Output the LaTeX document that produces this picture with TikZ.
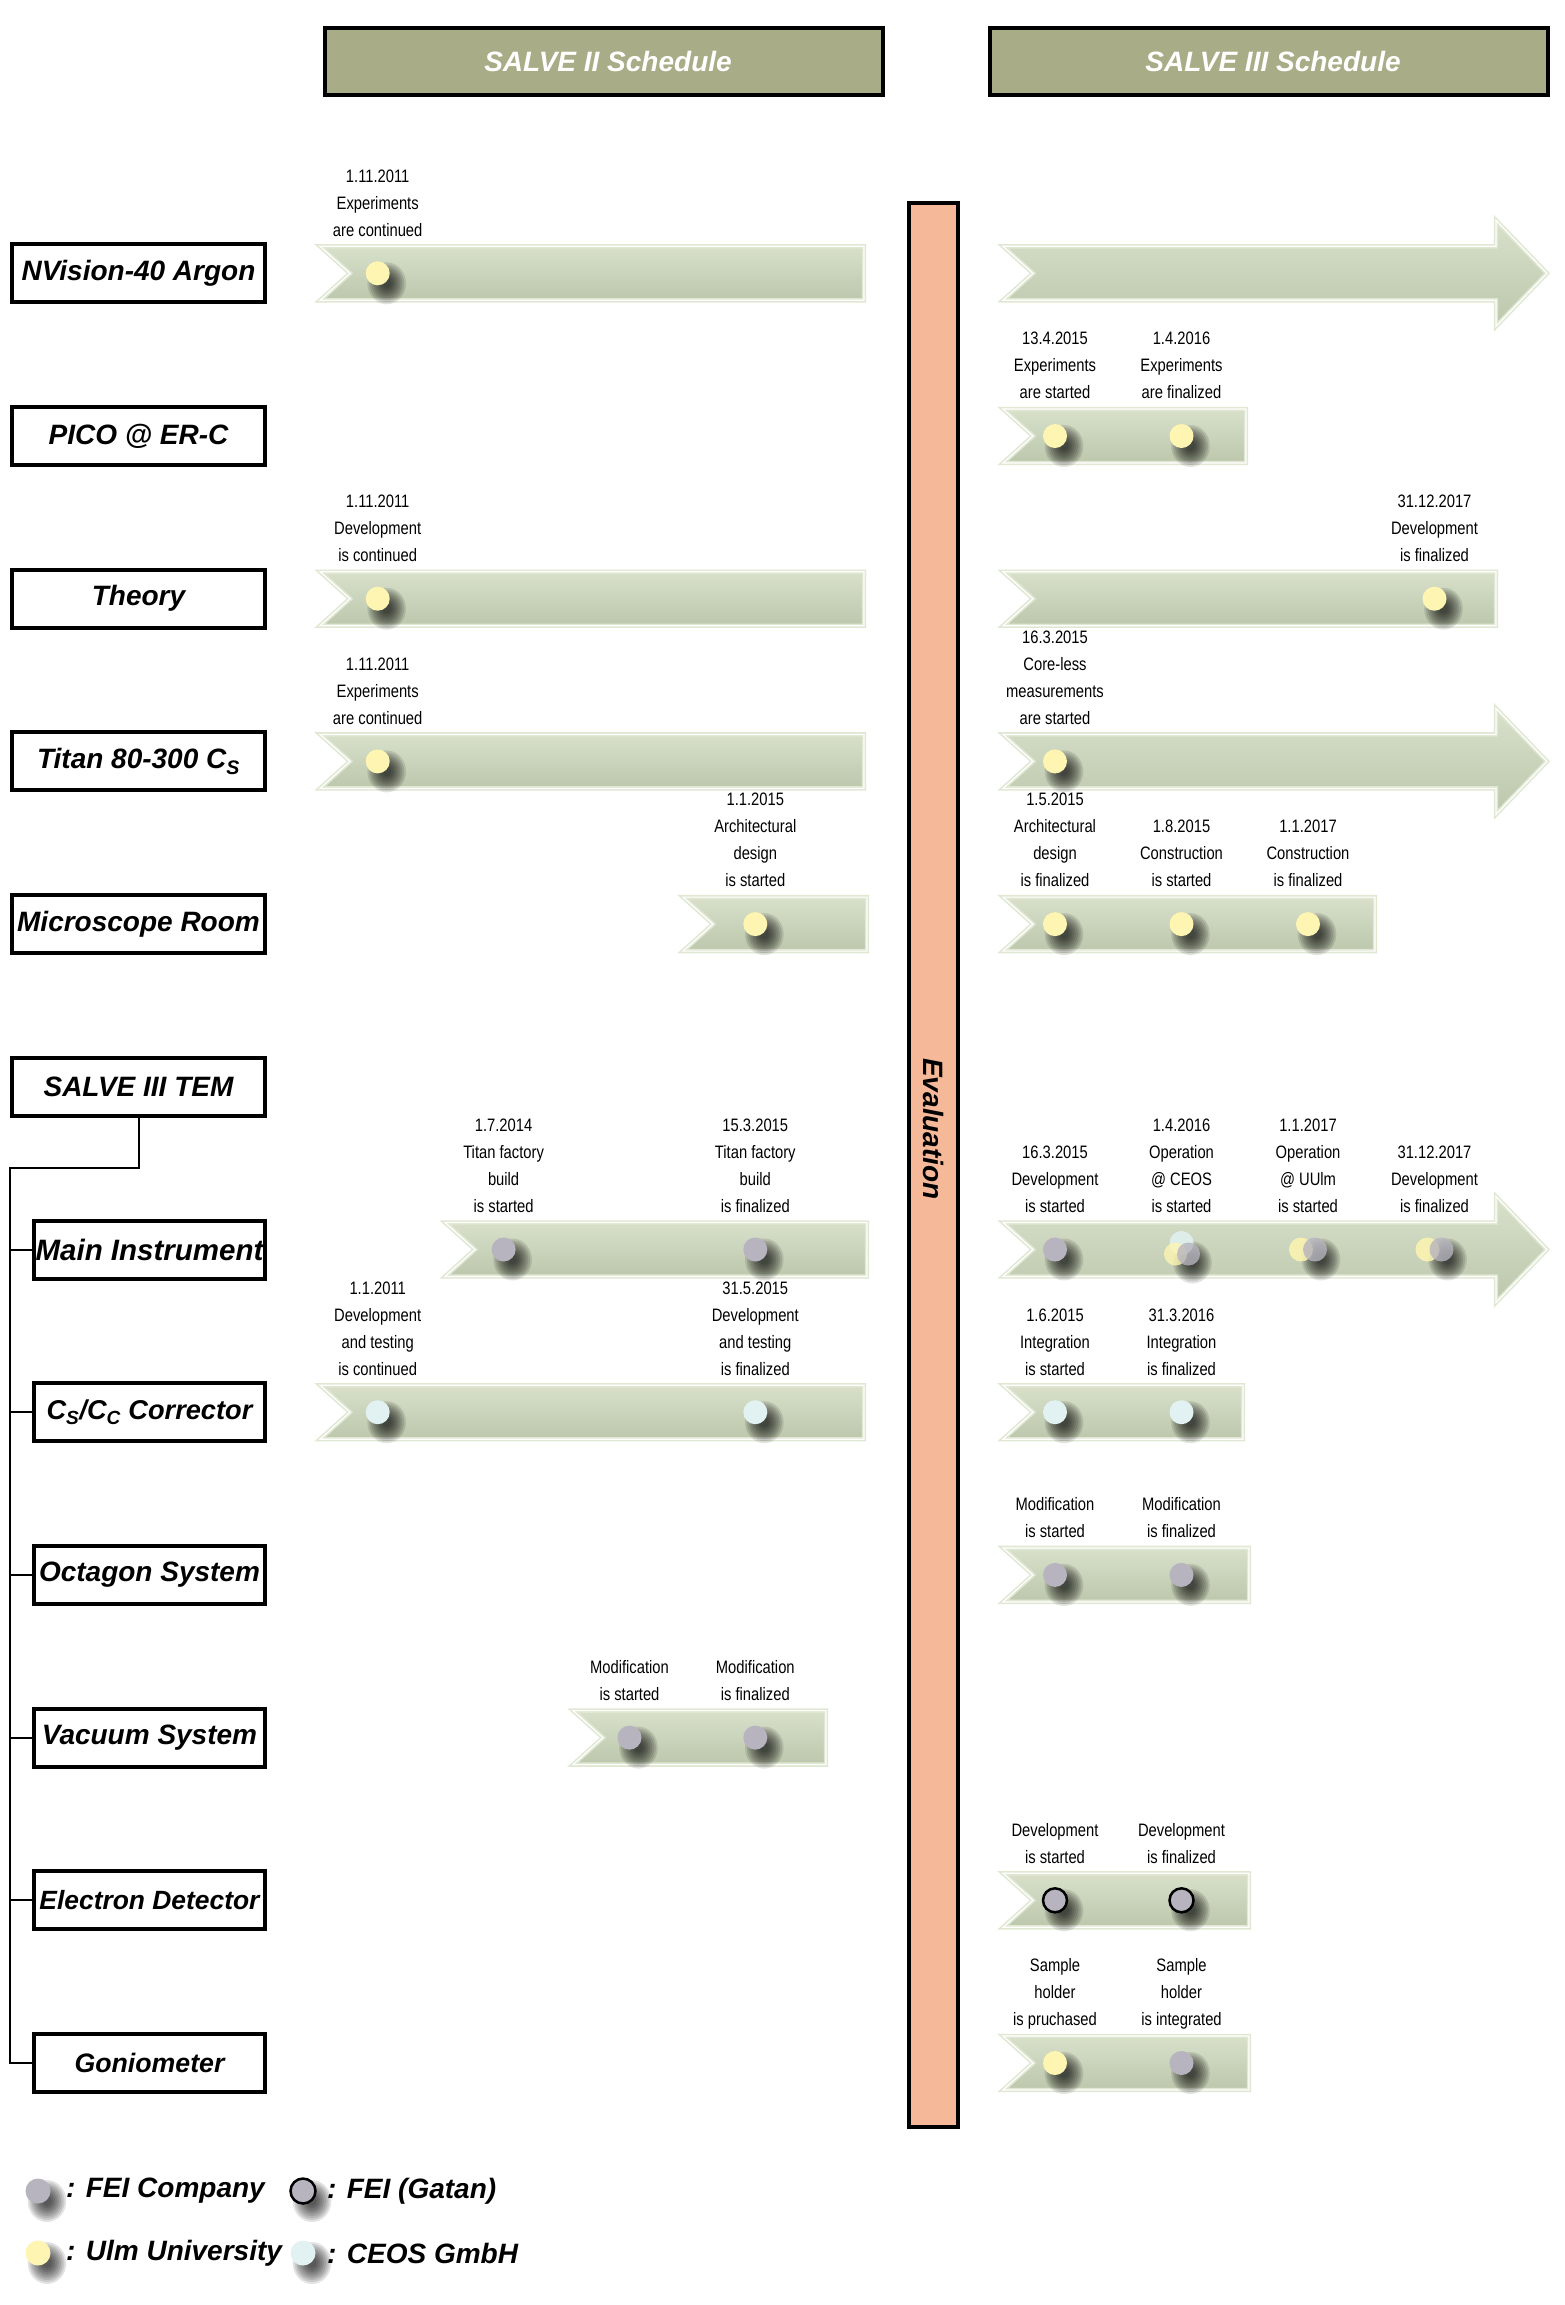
\documentclass[tikz,border=0pt]{standalone}
\usepackage{fontspec}
\setmainfont{Liberation Sans}
\newfontfamily\narrowfont[FakeStretch=0.82]{Liberation Sans}
\definecolor{hdr}{HTML}{A8AD87}
\definecolor{evalc}{HTML}{F5B99A}
\definecolor{bartop}{HTML}{D8E0CA}
\definecolor{barbot}{HTML}{BCC7AC}
\definecolor{baredge}{HTML}{E0E8D3}
\definecolor{ulm}{HTML}{FDF5B1}
\definecolor{fei}{HTML}{B7B4BF}
\definecolor{ceos}{HTML}{E2F2F2}
\newcommand\bif[1]{\fontsize{#1}{30}\selectfont\bfseries\itshape}
\tikzset{
  lbl/.style={draw=black, line width=4pt, fill=white, minimum width=253pt, minimum height=58pt,
    inner sep=0pt, font=\bif{28}},
  sublbl/.style={lbl, minimum width=231pt},
  hdrbox/.style={draw=black, line width=4pt, fill=hdr, minimum width=558pt, minimum height=67pt,
    inner sep=0pt},
  hdrtext/.style={inner sep=0pt, text=white, font=\bif{28}},
  note/.style={anchor=south, align=center, inner sep=0pt, text depth=5pt,
    font=\narrowfont\fontsize{18}{27}\selectfont},
  barstyle/.style={top color=bartop, bottom color=barbot, draw=baredge, double=white,
    double distance=1.2pt, line width=1.6pt, line join=miter},
  udot/.style={fill=ulm},
  fdot/.style={fill=fei},
  cdot/.style={fill=ceos},
  gdot/.style={fill=fei, draw=black, line width=2.5pt},
  tree/.style={draw=black, line width=2pt},
  legtext/.style={anchor=west, inner sep=0pt, font=\bif{28}}
}
\newcommand\flatbar[3]{\path[barstyle] (#1,#3-27) -- (#2,#3-27) -- (#2,#3+27) -- (#1,#3+27) -- (#1+30,#3) -- cycle;}
\newcommand\arrowbar[2]{\path[barstyle] (#1,#2-27) -- (1496,#2-27) -- (1496,#2-53) -- (1547,#2) -- (1496,#2+53) -- (1496,#2+27) -- (#1,#2+27) -- (#1+30,#2) -- cycle;}
\newcommand\blob[2]{\foreach \rr in {21,19,...,5}{\fill[black, fill opacity=0.11] (#1+9,#2+10) ellipse [x radius=0.92*\rr, y radius=\rr];}}
\newcommand\ms[5]{\blob{#2}{#3}\path[#4] (#2,#3) circle (12);\node[note] (#1) at (#2,#3-32) {#5};}
\def\rA{273.3}\def\rB{436}\def\rC{598.7}\def\rD{761.4}\def\rE{924.1}\def\rF{1086.8}
\def\rG{1249.5}\def\rH{1412.2}\def\rI{1574.9}\def\rJ{1737.6}\def\rK{1900.3}\def\rL{2063}
\def\xa{377.7}\def\xb{503.6}\def\xc{629.5}\def\xd{755.3}
\def\xA{1055}\def\xB{1181.5}\def\xC{1308}\def\xD{1434.5}
\begin{document}
\begin{tikzpicture}[x=1pt,y=-1pt]
\useasboundingbox (0,0) rectangle (1565,2305);
% headers
\node[hdrbox] (h2) at (604,61.5) {};
\node[hdrtext] (h2t) at (608,61.5) {SALVE II Schedule};
\node[hdrbox] (h3) at (1268.5,61.5) {};
\node[hdrtext] (h3t) at (1273,61.5) {SALVE III Schedule};
% evaluation bar
\node[draw=black, line width=4pt, fill=evalc, minimum width=49pt, minimum height=1924pt, inner sep=0pt] (ev) at (933.5,1164.5) {};
\node[rotate=-90, inner sep=0pt, font=\bif{28}] (evt) at (933.5,1129) {Evaluation};
% row labels
\node[lbl] (nv) at (138.5,\rA) {NVision-40 Argon};
\node[lbl] (pico) at (138.5,\rB) {PICO @ ER-C};
\node[lbl] (theory) at (138.5,\rC) {Theory};
\node[lbl] (titan) at (138.5,\rD) {Titan 80-300 C\textsubscript{S}};
\node[lbl] (room) at (138.5,\rE) {Microscope Room};
\node[lbl] (tem) at (138.5,\rF) {SALVE III TEM};
\node[sublbl, font=\bif{29.5}] (main) at (149.5,\rG) {Main Instrument};
\node[sublbl, font=\bif{27.2}] (corr) at (149.5,\rH) {C\textsubscript{S}/C\textsubscript{C} Corrector};
\node[sublbl] (oct) at (149.5,\rI) {Octagon System};
\node[sublbl] (vac) at (149.5,\rJ) {Vacuum System};
\node[sublbl, font=\bif{26.4}] (det) at (149.5,\rK) {Electron Detector};
\node[sublbl, font=\bif{26.7}] (gon) at (149.5,\rL) {Goniometer};
% tree
\coordinate (trunk) at (10,1168);
\draw[tree] (tem.south) |- (trunk) -- (trunk |- gon.west) -- (gon.west);
\foreach \n in {main,corr,oct,vac,det} {\draw[tree] (trunk |- \n.west) -- (\n.west);}
% bars left
\flatbar{320}{864}{\rA}
\flatbar{320}{864}{\rC}
\flatbar{320}{864}{\rD}
\flatbar{683}{867}{\rE}
\flatbar{445}{867}{\rG}
\flatbar{320}{864}{\rH}
\flatbar{573}{826}{\rJ}
% bars right
\arrowbar{1003}{\rA}
\flatbar{1003}{1246}{\rB}
\flatbar{1003}{1496}{\rC}
\arrowbar{1003}{\rD}
\flatbar{1003}{1375}{\rE}
\arrowbar{1003}{\rG}
\flatbar{1003}{1243}{\rH}
\flatbar{1003}{1249}{\rI}
\flatbar{1003}{1249}{\rK}
\flatbar{1003}{1249}{\rL}
% milestones left
\ms{m1}{\xa}{\rA}{udot}{1.11.2011\\Experiments\\are continued}
\ms{m2}{\xa}{\rC}{udot}{1.11.2011\\Development\\is continued}
\ms{m3}{\xa}{\rD}{udot}{1.11.2011\\Experiments\\are continued}
\ms{m4}{\xd}{\rE}{udot}{1.1.2015\\Architectural\\design\\is started}
\ms{m5}{\xb}{\rG}{fdot}{1.7.2014\\Titan factory\\build\\is started}
\ms{m6}{\xd}{\rG}{fdot}{15.3.2015\\Titan factory\\build\\is finalized}
\ms{m7}{\xa}{\rH}{cdot}{1.1.2011\\Development\\and testing\\is continued}
\ms{m8}{\xd}{\rH}{cdot}{31.5.2015\\Development\\and testing\\is finalized}
\ms{m9}{\xc}{\rJ}{fdot}{Modification\\is started}
\ms{m10}{\xd}{\rJ}{fdot}{Modification\\is finalized}
% milestones right
\ms{n1}{\xA}{\rB}{udot}{13.4.2015\\Experiments\\are started}
\ms{n2}{\xB}{\rB}{udot}{1.4.2016\\Experiments\\are finalized}
\ms{n3}{\xD}{\rC}{udot}{31.12.2017\\Development\\is finalized}
\ms{n4}{\xA}{\rD}{udot}{16.3.2015\\Core-less\\measurements\\are started}
\ms{n5}{\xA}{\rE}{udot}{1.5.2015\\Architectural\\design\\is finalized}
\ms{n6}{\xB}{\rE}{udot}{1.8.2015\\Construction\\is started}
\ms{n7}{\xC}{\rE}{udot}{1.1.2017\\Construction\\is finalized}
\ms{n8}{\xA}{\rG}{fdot}{16.3.2015\\Development\\is started}
% clusters on main instrument
\blob{\xB+2}{\rG+3}
\path[cdot, fill opacity=0.85] (\xB,\rG-6.5) circle (12);
\path[udot, fill opacity=0.8] (\xB-6,\rG+4.5) circle (11.5);
\path[fdot, fill opacity=0.8] (\xB+7,\rG+4.5) circle (11.5);
\node[note] (n9) at (\xB,\rG-32) {1.4.2016\\Operation\\@ CEOS\\is started};
\blob{\xC+4}{\rG}
\path[udot, fill opacity=0.85] (\xC-7,\rG) circle (12);
\path[fdot, fill opacity=0.8] (\xC+7,\rG) circle (12);
\node[note] (n10) at (\xC,\rG-32) {1.1.2017\\Operation\\@ UUlm\\is started};
\blob{\xD+4}{\rG}
\path[udot, fill opacity=0.85] (\xD-7,\rG) circle (12);
\path[fdot, fill opacity=0.8] (\xD+7,\rG) circle (12);
\node[note] (n11) at (\xD,\rG-32) {31.12.2017\\Development\\is finalized};
\ms{n12}{\xA}{\rH}{cdot}{1.6.2015\\Integration\\is started}
\ms{n13}{\xB}{\rH}{cdot}{31.3.2016\\Integration\\is finalized}
\ms{n14}{\xA}{\rI}{fdot}{Modification\\is started}
\ms{n15}{\xB}{\rI}{fdot}{Modification\\is finalized}
\ms{n16}{\xA}{\rK}{gdot}{Development\\is started}
\ms{n17}{\xB}{\rK}{gdot}{Development\\is finalized}
\ms{n18}{\xA}{\rL}{udot}{Sample\\holder\\is pruchased}
\ms{n19}{\xB}{\rL}{fdot}{Sample\\holder\\is integrated}
% legend
\blob{38}{2191}\path[fdot] (38,2191) circle (12.5);
\node[legtext] (l1) at (66,2191) {: FEI Company};
\blob{303}{2191}\path[gdot] (303,2191) circle (12.5);
\node[legtext] (l2) at (327,2191) {: FEI (Gatan)};
\blob{38}{2253}\path[udot] (38,2253) circle (12.5);
\node[legtext] (l3) at (66,2253) {: Ulm University};
\blob{303}{2253}\path[cdot] (303,2253) circle (12.5);
\node[legtext] (l4) at (327,2253) {: CEOS GmbH};
\end{tikzpicture}
\end{document}
